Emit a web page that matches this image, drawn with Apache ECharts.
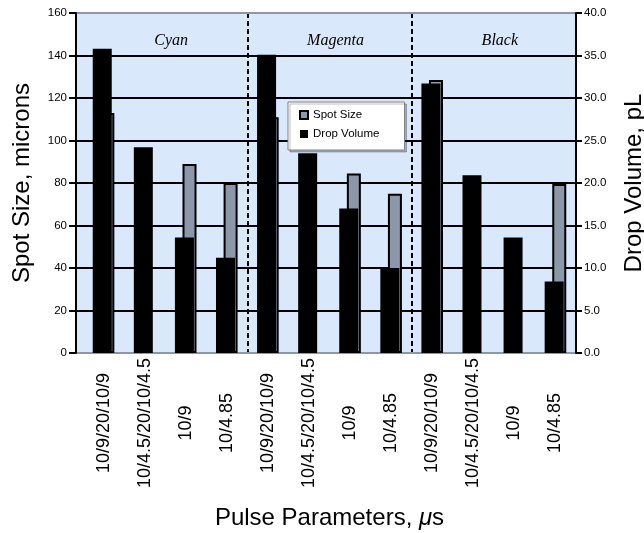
<!DOCTYPE html>
<html>
<head>
<meta charset="utf-8">
<script src="https://cdn.jsdelivr.net/npm/echarts@6/dist/echarts.min.js"></script>
<style>
  html, body { margin: 0; padding: 0; background: #fff; }
  #main { width: 644px; height: 533px; }
</style>
</head>
<body>
<div id="main"></div>
<script>
var categories = [
  '10/9/20/10/9', '10/4.5/20/10/4.5', '10/9', '10/4.85',
  '10/9/20/10/9', '10/4.5/20/10/4.5', '10/9', '10/4.85',
  '10/9/20/10/9', '10/4.5/20/10/4.5', '10/9', '10/4.85'
];
var groups = ['Cyan', 'Magenta', 'Black'];
// spot size, microns (left axis); no bar where the value is missing
var spotSize = [113, null, 89, 80, 111, null, 84.5, 75, 128.5, null, null, 79.5];
// drop volume, pL (right axis)
var dropVolume = [35.8, 24.2, 13.6, 11.2, 35.1, 23.5, 17.0, 10.0, 31.7, 20.9, 13.6, 8.4];

var chartDom = document.getElementById('main');
var myChart = echarts.init(chartDom);
var option;

var font = 'Liberation Sans, Arial, sans-serif';
var grayBar = '#8c97a9';
var frameLine = { show: true, onZero: false, lineStyle: { color: grayBar, width: 2 } };
var perGroup = categories.length / groups.length;

option = {
  animation: false,
  textStyle: { fontFamily: font },
  grid: [
    // bars + categories
    { left: 83, right: 68, top: 13, bottom: 180, show: false, outerBoundsMode: 'none' },
    // background, gridlines, visible y axes
    {
      left: 76, right: 68, top: 13, bottom: 180, show: true, outerBoundsMode: 'none',
      backgroundColor: '#dae8fc', borderWidth: 0, z: -1
    }
  ],
  legend: {
    data: ['Spot Size', 'Drop Volume'],
    orient: 'vertical',
    left: 288,
    top: 102,
    icon: 'rect',
    itemWidth: 8,
    itemHeight: 8,
    itemGap: 7,
    padding: [7, 25, 10, 11],
    backgroundColor: '#fff',
    borderColor: '#808080',
    borderWidth: 1,
    shadowColor: 'rgba(0,0,0,0.25)',
    shadowOffsetX: 2,
    shadowOffsetY: 2,
    selectedMode: false,
    textStyle: { fontSize: 11.5, color: '#000', fontFamily: font }
  },
  xAxis: [
    {
      type: 'category',
      gridIndex: 0,
      data: categories,
      axisLine: { show: false, onZero: false },
      axisTick: { show: false },
      splitLine: { show: false },
      axisLabel: {
        interval: 0,
        rotate: 90,
        align: 'center',
        verticalAlign: 'middle',
        margin: 70,
        fontSize: 18,
        color: '#000'
      },
      name: 'Pulse Parameters, {i|μ}s',
      nameLocation: 'middle',
      nameGap: 153,
      nameTextStyle: {
        fontSize: 24,
        color: '#000',
        rich: { i: { fontStyle: 'italic', fontSize: 24, color: '#000' } }
      }
    },
    {
      type: 'category',
      gridIndex: 0,
      data: groups,
      position: 'top',
      axisLine: { show: false, onZero: false },
      axisTick: { show: false },
      splitLine: { show: false },
      axisLabel: {
        inside: true,
        margin: 20,
        padding: [0, 0, 0, 12],
        fontFamily: 'Liberation Serif, Times New Roman, serif',
        fontStyle: 'italic',
        fontSize: 16,
        color: '#000'
      }
    },
    // 色组之间的虚线
    {
      type: 'value',
      gridIndex: 0,
      min: 0,
      max: categories.length,
      interval: perGroup,
      axisLine: { show: false, onZero: false },
      axisTick: { show: false },
      axisLabel: { show: false },
      splitLine: {
        show: true,
        showMinLine: false,
        showMaxLine: false,
        lineStyle: { type: [5, 3], color: '#000', width: 2 }
      }
    },
    {
      type: 'value', gridIndex: 1, position: 'top', min: 0, max: 1,
      axisLine: frameLine, axisTick: { show: false }, axisLabel: { show: false }, splitLine: { show: false }
    },
    {
      type: 'value', gridIndex: 1, position: 'bottom', min: 0, max: 1,
      axisLine: frameLine, axisTick: { show: false }, axisLabel: { show: false }, splitLine: { show: false }
    }
  ],
  yAxis: [
    { type: 'value', gridIndex: 0, min: 0, max: 160, interval: 20, show: false },
    { type: 'value', gridIndex: 0, position: 'right', min: 0, max: 40, interval: 5, show: false },
    {
      type: 'value',
      gridIndex: 1,
      position: 'left',
      min: 0,
      max: 160,
      interval: 20,
      z: 4,
      axisLine: { show: true, onZero: false, lineStyle: { color: '#000', width: 2 } },
      axisTick: { show: true, length: 7, lineStyle: { color: '#000', width: 2 } },
      axisLabel: { fontSize: 11.5, color: '#000', margin: 9 },
      splitLine: { show: false },
      name: 'Spot Size, microns',
      nameLocation: 'middle',
      nameGap: 42,
      nameTextStyle: { fontSize: 24, color: '#000' }
    },
    {
      type: 'value',
      gridIndex: 1,
      position: 'right',
      min: 0,
      max: 40,
      interval: 5,
      z: 4,
      axisLine: { show: true, onZero: false, lineStyle: { color: '#000', width: 2 } },
      axisTick: { show: true, length: 6, lineStyle: { color: '#000', width: 2 } },
      axisLabel: {
        fontSize: 11.5,
        color: '#000',
        margin: 8,
        formatter: function (v) { return v.toFixed(1); }
      },
      splitLine: { show: false },
      name: 'Drop Volume, pL',
      nameLocation: 'middle',
      nameGap: 46,
      nameTextStyle: { fontSize: 24, color: '#000' }
    },
    // gridlines only, kept below the bars
    {
      type: 'value',
      gridIndex: 1,
      min: 0,
      max: 160,
      interval: 20,
      axisLine: { show: false, onZero: false },
      axisTick: { show: false },
      axisLabel: { show: false },
      splitLine: {
        show: true,
        showMinLine: false,
        showMaxLine: false,
        lineStyle: { color: '#000', width: 2 }
      }
    }
  ],
  series: [
    {
      name: 'Drop Volume',
      type: 'bar',
      xAxisIndex: 0,
      yAxisIndex: 1,
      data: dropVolume,
      barWidth: 19,
      barGap: '-60%',
      z: 3,
      itemStyle: { color: '#000' }
    },
    {
      name: 'Spot Size',
      type: 'bar',
      xAxisIndex: 0,
      yAxisIndex: 0,
      data: spotSize,
      barWidth: 14,
      barGap: '-60%',
      z: 2,
      itemStyle: { color: grayBar, borderColor: '#000', borderWidth: 2 }
    }
  ]
};

option && myChart.setOption(option);
</script>
</body>
</html>
